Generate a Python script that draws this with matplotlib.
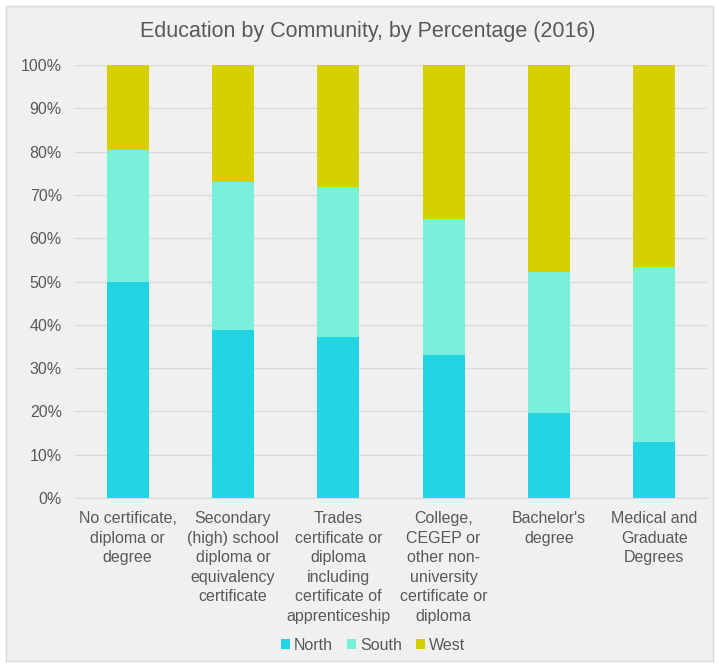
import matplotlib
matplotlib.use("Agg")
import matplotlib.pyplot as plt
from matplotlib.patches import Rectangle
from matplotlib.ticker import PercentFormatter
import numpy as np

plt.rcParams['font.family'] = ['Liberation Sans', 'DejaVu Sans']

categories = [
    "No certificate,\ndiploma or\ndegree",
    "Secondary\n(high) school\ndiploma or\nequivalency\ncertificate",
    "Trades\ncertificate or\ndiploma\nincluding\ncertificate of\napprenticeship",
    "College,\nCEGEP or\nother non-\nuniversity\ncertificate or\ndiploma",
    "Bachelor's\ndegree",
    "Medical and\nGraduate\nDegrees",
]
north = [50.0, 38.8, 37.2, 33.0, 19.7, 13.0]
south = [30.3, 34.1, 34.7, 31.5, 32.5, 40.3]
west = [19.7, 27.1, 28.1, 35.5, 47.8, 46.7]
y_ticks = [0, 10, 20, 30, 40, 50, 60, 70, 80, 90, 100]

colors = {"North": "#21d5e2", "South": "#79f0da", "West": "#d6d000"}
text_color = "#595959"
bg = "#f0f0f0"

W, H = 719, 667
fig = plt.figure(figsize=(W / 100, H / 100), dpi=100)
fig.patch.set_facecolor("white")
fig.patches.append(Rectangle((6 / W, 6 / H), (W - 12) / W, (H - 12) / H,
                             transform=fig.transFigure, facecolor=bg,
                             edgecolor="#d9d9d9", linewidth=1, zorder=-10))

left, right = 75 / W, 707 / W
bottom, top = 1 - 498 / H, 1 - 65 / H
ax = fig.add_axes([left, bottom, right - left, top - bottom])
ax.set_facecolor(bg)

x = np.arange(len(categories))
bw = 0.4
ax.bar(x, north, bw, color=colors["North"], label="North", zorder=3)
ax.bar(x, south, bw, bottom=north, color=colors["South"], label="South", zorder=3)
ax.bar(x, west, bw, bottom=np.array(north) + np.array(south),
       color=colors["West"], label="West", zorder=3)

ax.set_xlim(-0.5, len(categories) - 0.5)
ax.set_ylim(0, 100)
ax.set_yticks(y_ticks)
ax.yaxis.set_major_formatter(PercentFormatter(decimals=0))
ax.grid(axis="y", color="#d9d9d9", linewidth=1, zorder=0)
for s in ["top", "right", "left"]:
    ax.spines[s].set_visible(False)
ax.spines["bottom"].set_color("#d9d9d9")
ax.tick_params(axis="both", length=0, colors=text_color, labelsize=11.5)
ax.tick_params(axis="y", pad=9.5)
ax.set_xticks(x)
ax.set_xticklabels(categories, linespacing=1.38, va="top")
ax.tick_params(axis="x", pad=9.5)

fig.text(368 / W, 1 - 32 / H,
         "Education by Community, by Percentage (2016)",
         ha="center", va="center", fontsize=15.5, color=text_color)

leg = ax.legend(loc="center", bbox_to_anchor=(373 / W, 1 - 645 / H),
                bbox_transform=fig.transFigure, ncol=3, frameon=False,
                fontsize=11.5, handlelength=0.55, handleheight=0.55,
                handletextpad=0.25, columnspacing=0.9)
for t in leg.get_texts():
    t.set_color(text_color)

fig.savefig("out.png", dpi=100, facecolor=fig.get_facecolor())
